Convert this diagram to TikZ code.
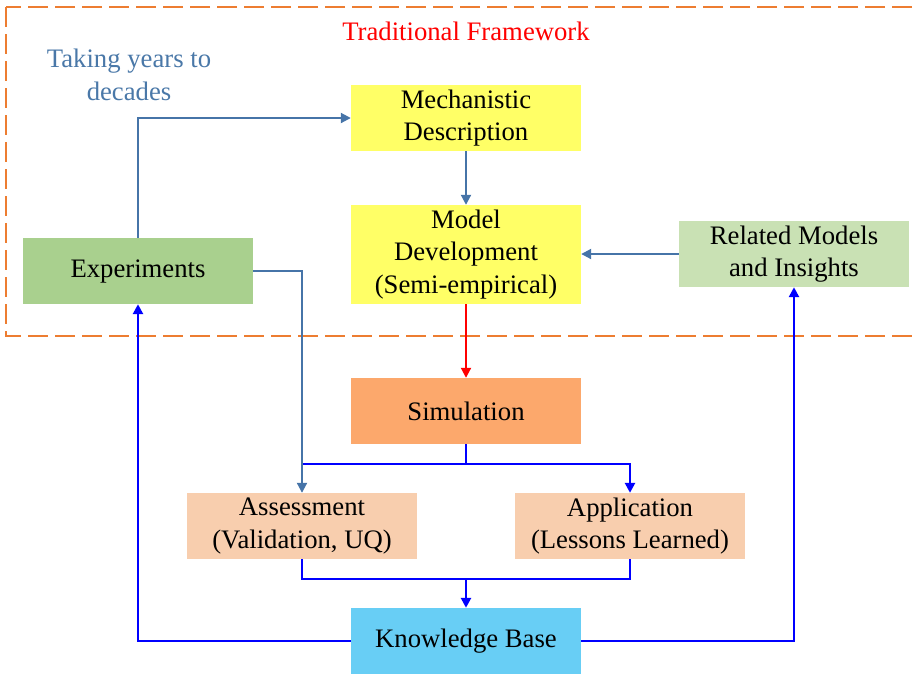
\documentclass[tikz,border=0pt]{standalone}
\usepackage{fontspec}
\setmainfont{Liberation Serif}
\usetikzlibrary{arrows.meta}

\definecolor{frameorange}{RGB}{237,125,49}
\definecolor{linksteel}{RGB}{70,116,168}
\definecolor{notesteel}{RGB}{74,120,168}
\definecolor{boxyellow}{RGB}{255,255,102}
\definecolor{boxgreen}{RGB}{169,208,142}
\definecolor{boxpalegreen}{RGB}{201,225,180}
\definecolor{boxorange}{RGB}{252,168,108}
\definecolor{boxpeach}{RGB}{248,206,174}
\definecolor{boxsky}{RGB}{104,206,245}

\begin{document}
\begin{tikzpicture}[x=1pt,y=-1pt,
  font=\fontsize{26.7}{32.5}\selectfont,
  stage/.style={minimum width=230pt, minimum height=66pt, inner sep=0pt,
                align=center, text=black},
  steellink/.style={draw=linksteel, line width=2pt,
                    -{Triangle[length=10pt,width=10pt]}},
  bluelink/.style={draw=blue, line width=2.5pt},
  bluearrow/.style={bluelink, -{Triangle[length=10pt,width=10pt]}},
  redlink/.style={draw=red, line width=2pt,
                  -{Triangle[length=10pt,width=10pt]}}]

\useasboundingbox (0,0) rectangle (914,673);
\clip (0,0) rectangle (914,673);

% dashed frame of the traditional framework (open to the right)
\draw[frameorange, line width=2.2pt, dash pattern=on 20pt off 7pt]
  (6,7) rectangle (940,336);
\node[text=red] (title) at (466,31) {Traditional Framework};
\node[text=notesteel, align=center] (note) at (129,75) {Taking years to\\decades};

% stages
\node[stage, fill=boxyellow] (mech) at (466,118) {Mechanistic\\Description};
\node[stage, fill=boxyellow, minimum height=99pt] (dev) at (466,254.5)
  {Model\\Development\\(Semi-empirical)};
\node[stage, fill=boxgreen] (exp) at (138,271) {Experiments};
\node[stage, fill=boxpalegreen] (rel) at (794,254) {Related Models\\and Insights};
\node[stage, fill=boxorange] (sim) at (466,411) {Simulation};
\node[stage, fill=boxpeach] (assess) at (302,526) {Assessment\\(Validation, UQ)};
\node[stage, fill=boxpeach] (app) at (630,526) {Application\\(Lessons Learned)};
\node[stage, fill=boxsky] (kb) at (466,641) {Knowledge Base};

\coordinate (split) at (466,464);
\coordinate (merge) at (466,579);

% connectors inside the traditional framework
\draw[steellink] (exp.north) |- (mech.west);
\draw[steellink] (mech.south) -- (dev.north);
\draw[steellink] (rel.west) -- (rel.west -| dev.east);
\draw[redlink] (dev.south) -- (sim.north);

% simulation branches to assessment and application
\draw[bluelink] (sim.south) -- (split);
\draw[bluearrow] (assess.north |- split) -- (split) -| (app.north);
\draw[steellink] (exp.east) -| (assess.north);

% results collected into the knowledge base
\draw[bluelink] (assess.south) |- (merge) -| (app.south);
\draw[bluearrow] (merge) -- (kb.north);

% feedback from the knowledge base
\draw[bluearrow] (kb.west) -| (exp.south);
\draw[bluearrow] (kb.east) -| (rel.south);
\end{tikzpicture}
\end{document}
